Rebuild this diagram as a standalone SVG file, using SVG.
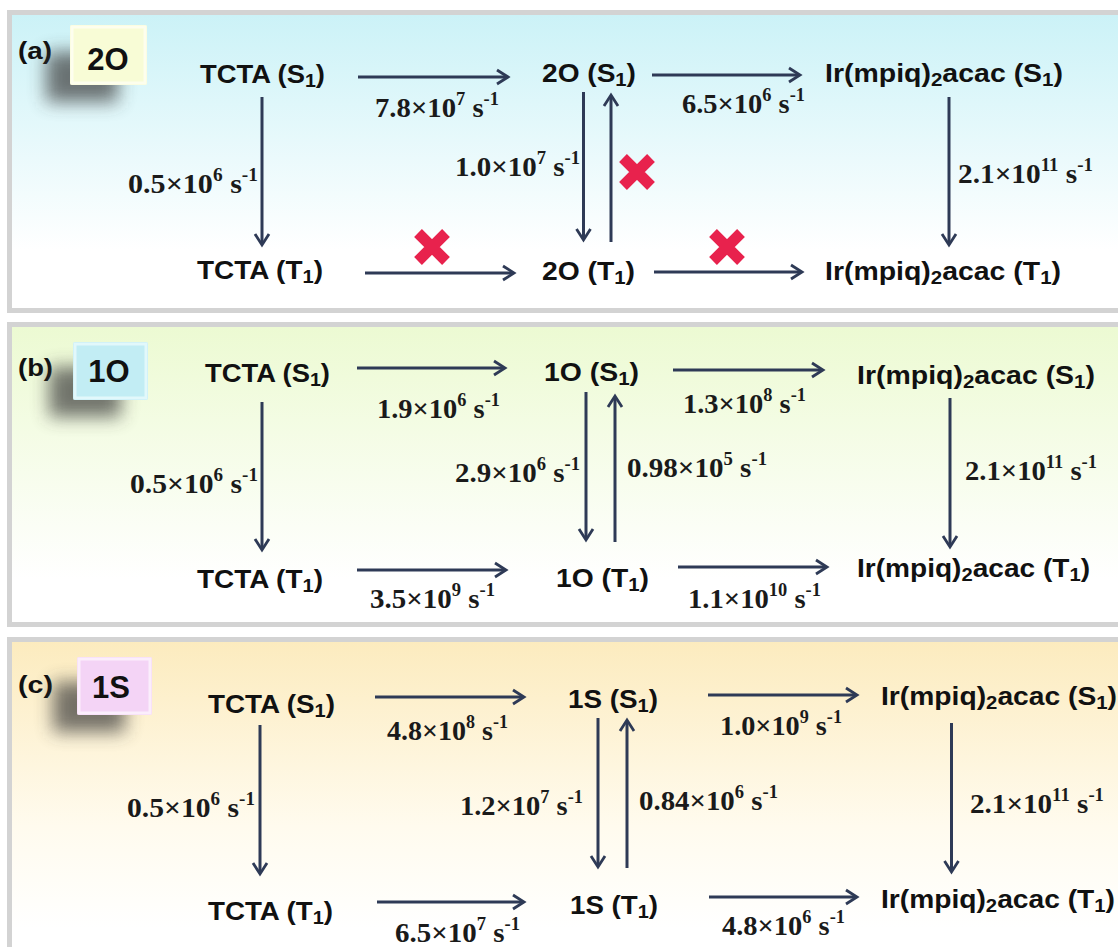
<svg xmlns="http://www.w3.org/2000/svg" width="1118" height="947" viewBox="0 0 1118 947">
<defs>
<linearGradient id="ga" x1="0" y1="0" x2="0" y2="1"><stop offset="0" stop-color="#cbf2f7"/><stop offset="0.8" stop-color="#ffffff"/></linearGradient>
<linearGradient id="gb" x1="0" y1="0" x2="0" y2="1"><stop offset="0" stop-color="#ecfad2"/><stop offset="0.85" stop-color="#ffffff"/></linearGradient>
<linearGradient id="gc" x1="0" y1="0" x2="0" y2="1"><stop offset="0" stop-color="#fcebbe"/><stop offset="0.55" stop-color="#fffbee"/><stop offset="0.85" stop-color="#ffffff"/></linearGradient>
<filter id="sh" x="-80%" y="-80%" width="260%" height="260%"><feGaussianBlur stdDeviation="9"/></filter>
<marker id="ah" markerUnits="userSpaceOnUse" markerWidth="20" markerHeight="20" viewBox="-14 -10 20 20" refX="-2" refY="0" orient="auto"><path d="M-11,-7 L0,0 L-11,7" fill="none" stroke="#2e3a56" stroke-width="2.8"/></marker>
<style>
.n{font-family:"Liberation Sans",Arial,sans-serif;font-weight:bold;font-size:25px;fill:#111}
.sb{font-size:18px}
.l{font-family:"Liberation Serif","Times New Roman",serif;font-weight:bold;font-size:28px;fill:#1a1a1a}
.sp{font-size:18px}
.tag{font-family:"Liberation Sans",Arial,sans-serif;font-weight:bold;font-size:23px;fill:#111}
.big{font-family:"Liberation Sans",Arial,sans-serif;font-weight:bold;font-size:31px;fill:#111;text-anchor:middle}
.panel{stroke:#d3d3d3;stroke-width:5}
.shadow{fill:#3a3a3a;opacity:0.7;filter:url(#sh)}
.ar line{stroke:#2e3a56;stroke-width:3;marker-end:url(#ah)}
.x{stroke:#e8224d;stroke-width:11;fill:none}
</style>
</defs>

<g id="panels">
<rect class="panel" x="9.5" y="12.5" width="1130" height="298" fill="url(#ga)"/>
<rect class="panel" x="9.5" y="324.5" width="1130" height="300" fill="url(#gb)"/>
<rect class="panel" x="9.5" y="639.5" width="1130" height="340" fill="url(#gc)"/>
</g>

<g id="tags">
<g id="tag-a">
<text class="tag" x="18" y="59" textLength="34" lengthAdjust="spacingAndGlyphs">(a)</text>
<rect class="shadow" x="46" y="52" width="72" height="50"/>
<rect x="70" y="25" width="77" height="60" rx="2" fill="#f8fcd6"/>
<rect x="72" y="27" width="73" height="56" fill="none" stroke="#fdfeee" stroke-width="3"/>
<text class="big" x="108" y="70">2O</text>
</g>
<g id="tag-b">
<text class="tag" x="18" y="376" textLength="35" lengthAdjust="spacingAndGlyphs">(b)</text>
<rect class="shadow" x="49" y="367" width="72" height="50"/>
<rect x="73" y="342" width="75" height="58" rx="2" fill="#c2edf4"/>
<rect x="75" y="344" width="71" height="54" fill="none" stroke="#e2f8fb" stroke-width="3"/>
<text class="big" x="109" y="382">1O</text>
</g>
<g id="tag-c">
<text class="tag" x="18" y="693" textLength="35" lengthAdjust="spacingAndGlyphs">(c)</text>
<rect class="shadow" x="53" y="682" width="72" height="50"/>
<rect x="77" y="657" width="75" height="58" rx="2" fill="#f4d4f6"/>
<rect x="79" y="659" width="71" height="54" fill="none" stroke="#fbeefc" stroke-width="3"/>
<text class="big" x="111" y="698">1S</text>
</g>
</g>

<g id="connectors" class="ar">
<line x1="358" y1="77" x2="506" y2="77"/>
<line x1="652" y1="75" x2="798" y2="75"/>
<line x1="262" y1="97" x2="262" y2="243"/>
<line x1="583.5" y1="92" x2="583.5" y2="238"/>
<line x1="611" y1="242" x2="611" y2="97"/>
<line x1="949" y1="97" x2="949" y2="243"/>
<line x1="365" y1="273" x2="512" y2="273"/>
<line x1="654" y1="272" x2="800" y2="272"/>

<line x1="357" y1="368" x2="503" y2="368"/>
<line x1="673" y1="370" x2="821" y2="370"/>
<line x1="262" y1="402" x2="262" y2="548"/>
<line x1="586" y1="392" x2="586" y2="538"/>
<line x1="615" y1="542" x2="615" y2="398"/>
<line x1="950" y1="398" x2="950" y2="545"/>
<line x1="357" y1="570" x2="504" y2="570"/>
<line x1="678" y1="567" x2="825" y2="567"/>

<line x1="375" y1="697" x2="522" y2="697"/>
<line x1="708" y1="695" x2="855" y2="695"/>
<line x1="260" y1="725" x2="260" y2="872"/>
<line x1="598" y1="718" x2="598" y2="865"/>
<line x1="627" y1="868" x2="627" y2="722"/>
<line x1="951.5" y1="723" x2="951.5" y2="870"/>
<line x1="377" y1="902" x2="522" y2="902"/>
<line x1="709" y1="897" x2="855" y2="897"/>
</g>

<g id="blocked">
<path class="x" d="M-14,-14 L14,14 M14,-14 L-14,14" transform="translate(432,247)"/>
<path class="x" d="M-14,-14 L14,14 M14,-14 L-14,14" transform="translate(637,172)"/>
<path class="x" d="M-14,-14 L14,14 M14,-14 L-14,14" transform="translate(727,247)"/>
</g>

<g id="rate-labels">
<text class="l" x="375" y="117" textLength="124" lengthAdjust="spacingAndGlyphs">7.8×10<tspan class="sp" dy="-12">7</tspan><tspan dy="12"> s</tspan><tspan class="sp" dy="-12">-1</tspan></text>
<text class="l" x="682" y="113" textLength="123" lengthAdjust="spacingAndGlyphs">6.5×10<tspan class="sp" dy="-12">6</tspan><tspan dy="12"> s</tspan><tspan class="sp" dy="-12">-1</tspan></text>
<text class="l" x="128" y="193" textLength="130" lengthAdjust="spacingAndGlyphs">0.5×10<tspan class="sp" dy="-12">6</tspan><tspan dy="12">  s</tspan><tspan class="sp" dy="-12">-1</tspan></text>
<text class="l" x="455" y="176" textLength="125" lengthAdjust="spacingAndGlyphs">1.0×10<tspan class="sp" dy="-12">7</tspan><tspan dy="12"> s</tspan><tspan class="sp" dy="-12">-1</tspan></text>
<text class="l" x="958" y="183" textLength="135" lengthAdjust="spacingAndGlyphs">2.1×10<tspan class="sp" dy="-12">11</tspan><tspan dy="12"> s</tspan><tspan class="sp" dy="-12">-1</tspan></text>

<text class="l" x="377" y="418" textLength="123" lengthAdjust="spacingAndGlyphs">1.9×10<tspan class="sp" dy="-12">6</tspan><tspan dy="12"> s</tspan><tspan class="sp" dy="-12">-1</tspan></text>
<text class="l" x="683" y="413" textLength="123" lengthAdjust="spacingAndGlyphs">1.3×10<tspan class="sp" dy="-12">8</tspan><tspan dy="12"> s</tspan><tspan class="sp" dy="-12">-1</tspan></text>
<text class="l" x="130" y="493" textLength="128" lengthAdjust="spacingAndGlyphs">0.5×10<tspan class="sp" dy="-12">6</tspan><tspan dy="12">  s</tspan><tspan class="sp" dy="-12">-1</tspan></text>
<text class="l" x="455" y="482" textLength="125" lengthAdjust="spacingAndGlyphs">2.9×10<tspan class="sp" dy="-12">6</tspan><tspan dy="12"> s</tspan><tspan class="sp" dy="-12">-1</tspan></text>
<text class="l" x="627" y="477" textLength="140" lengthAdjust="spacingAndGlyphs">0.98×10<tspan class="sp" dy="-12">5</tspan><tspan dy="12"> s</tspan><tspan class="sp" dy="-12">-1</tspan></text>
<text class="l" x="965" y="480" textLength="132" lengthAdjust="spacingAndGlyphs">2.1×10<tspan class="sp" dy="-12">11</tspan><tspan dy="12"> s</tspan><tspan class="sp" dy="-12">-1</tspan></text>
<text class="l" x="370" y="608" textLength="125" lengthAdjust="spacingAndGlyphs">3.5×10<tspan class="sp" dy="-12">9</tspan><tspan dy="12"> s</tspan><tspan class="sp" dy="-12">-1</tspan></text>
<text class="l" x="688" y="608" textLength="133" lengthAdjust="spacingAndGlyphs">1.1×10<tspan class="sp" dy="-12">10</tspan><tspan dy="12"> s</tspan><tspan class="sp" dy="-12">-1</tspan></text>

<text class="l" x="387" y="740" textLength="121" lengthAdjust="spacingAndGlyphs">4.8×10<tspan class="sp" dy="-12">8</tspan><tspan dy="12"> s</tspan><tspan class="sp" dy="-12">-1</tspan></text>
<text class="l" x="720" y="735" textLength="122" lengthAdjust="spacingAndGlyphs">1.0×10<tspan class="sp" dy="-12">9</tspan><tspan dy="12"> s</tspan><tspan class="sp" dy="-12">-1</tspan></text>
<text class="l" x="127" y="817" textLength="128" lengthAdjust="spacingAndGlyphs">0.5×10<tspan class="sp" dy="-12">6</tspan><tspan dy="12">  s</tspan><tspan class="sp" dy="-12">-1</tspan></text>
<text class="l" x="460" y="815" textLength="123" lengthAdjust="spacingAndGlyphs">1.2×10<tspan class="sp" dy="-12">7</tspan><tspan dy="12"> s</tspan><tspan class="sp" dy="-12">-1</tspan></text>
<text class="l" x="639" y="810" textLength="139" lengthAdjust="spacingAndGlyphs">0.84×10<tspan class="sp" dy="-12">6</tspan><tspan dy="12"> s</tspan><tspan class="sp" dy="-12">-1</tspan></text>
<text class="l" x="970" y="813" textLength="134" lengthAdjust="spacingAndGlyphs">2.1×10<tspan class="sp" dy="-12">11</tspan><tspan dy="12"> s</tspan><tspan class="sp" dy="-12">-1</tspan></text>
<text class="l" x="395" y="942" textLength="125" lengthAdjust="spacingAndGlyphs">6.5×10<tspan class="sp" dy="-12">7</tspan><tspan dy="12"> s</tspan><tspan class="sp" dy="-12">-1</tspan></text>
<text class="l" x="722" y="935" textLength="123" lengthAdjust="spacingAndGlyphs">4.8×10<tspan class="sp" dy="-12">6</tspan><tspan dy="12"> s</tspan><tspan class="sp" dy="-12">-1</tspan></text>
</g>

<g id="a-tcta-s1"><text class="n" x="200" y="83" textLength="125" lengthAdjust="spacingAndGlyphs">TCTA (S<tspan class="sb" dy="4">1</tspan><tspan dy="-4">)</tspan></text></g>
<g id="a-2o-s1"><text class="n" x="542" y="82" textLength="94" lengthAdjust="spacingAndGlyphs">2O (S<tspan class="sb" dy="4">1</tspan><tspan dy="-4">)</tspan></text></g>
<g id="a-ir-s1"><text class="n" x="825" y="82" textLength="238" lengthAdjust="spacingAndGlyphs">Ir(mpiq)<tspan class="sb" dy="4">2</tspan><tspan dy="-4">acac (S</tspan><tspan class="sb" dy="4">1</tspan><tspan dy="-4">)</tspan></text></g>
<g id="a-tcta-t1"><text class="n" x="197" y="279" textLength="126" lengthAdjust="spacingAndGlyphs">TCTA (T<tspan class="sb" dy="4">1</tspan><tspan dy="-4">)</tspan></text></g>
<g id="a-2o-t1"><text class="n" x="542" y="280" textLength="93" lengthAdjust="spacingAndGlyphs">2O (T<tspan class="sb" dy="4">1</tspan><tspan dy="-4">)</tspan></text></g>
<g id="a-ir-t1"><text class="n" x="825" y="280" textLength="236" lengthAdjust="spacingAndGlyphs">Ir(mpiq)<tspan class="sb" dy="4">2</tspan><tspan dy="-4">acac (T</tspan><tspan class="sb" dy="4">1</tspan><tspan dy="-4">)</tspan></text></g>

<g id="b-tcta-s1"><text class="n" x="205" y="382" textLength="125" lengthAdjust="spacingAndGlyphs">TCTA (S<tspan class="sb" dy="4">1</tspan><tspan dy="-4">)</tspan></text></g>
<g id="b-1o-s1"><text class="n" x="544" y="381" textLength="95" lengthAdjust="spacingAndGlyphs">1O (S<tspan class="sb" dy="4">1</tspan><tspan dy="-4">)</tspan></text></g>
<g id="b-ir-s1"><text class="n" x="857" y="384" textLength="238" lengthAdjust="spacingAndGlyphs">Ir(mpiq)<tspan class="sb" dy="4">2</tspan><tspan dy="-4">acac (S</tspan><tspan class="sb" dy="4">1</tspan><tspan dy="-4">)</tspan></text></g>
<g id="b-tcta-t1"><text class="n" x="197" y="588" textLength="126" lengthAdjust="spacingAndGlyphs">TCTA (T<tspan class="sb" dy="4">1</tspan><tspan dy="-4">)</tspan></text></g>
<g id="b-1o-t1"><text class="n" x="556" y="587" textLength="93" lengthAdjust="spacingAndGlyphs">1O (T<tspan class="sb" dy="4">1</tspan><tspan dy="-4">)</tspan></text></g>
<g id="b-ir-t1"><text class="n" x="857" y="577" textLength="233" lengthAdjust="spacingAndGlyphs">Ir(mpiq)<tspan class="sb" dy="4">2</tspan><tspan dy="-4">acac (T</tspan><tspan class="sb" dy="4">1</tspan><tspan dy="-4">)</tspan></text></g>

<g id="c-tcta-s1"><text class="n" x="208" y="713" textLength="127" lengthAdjust="spacingAndGlyphs">TCTA (S<tspan class="sb" dy="4">1</tspan><tspan dy="-4">)</tspan></text></g>
<g id="c-1s-s1"><text class="n" x="568" y="708" textLength="90" lengthAdjust="spacingAndGlyphs">1S (S<tspan class="sb" dy="4">1</tspan><tspan dy="-4">)</tspan></text></g>
<g id="c-ir-s1"><text class="n" x="881" y="705" textLength="236" lengthAdjust="spacingAndGlyphs">Ir(mpiq)<tspan class="sb" dy="4">2</tspan><tspan dy="-4">acac (S</tspan><tspan class="sb" dy="4">1</tspan><tspan dy="-4">)</tspan></text></g>
<g id="c-tcta-t1"><text class="n" x="208" y="920" textLength="125" lengthAdjust="spacingAndGlyphs">TCTA (T<tspan class="sb" dy="4">1</tspan><tspan dy="-4">)</tspan></text></g>
<g id="c-1s-t1"><text class="n" x="570" y="914" textLength="88" lengthAdjust="spacingAndGlyphs">1S (T<tspan class="sb" dy="4">1</tspan><tspan dy="-4">)</tspan></text></g>
<g id="c-ir-t1"><text class="n" x="881" y="908" textLength="234" lengthAdjust="spacingAndGlyphs">Ir(mpiq)<tspan class="sb" dy="4">2</tspan><tspan dy="-4">acac (T</tspan><tspan class="sb" dy="4">1</tspan><tspan dy="-4">)</tspan></text></g>
</svg>
